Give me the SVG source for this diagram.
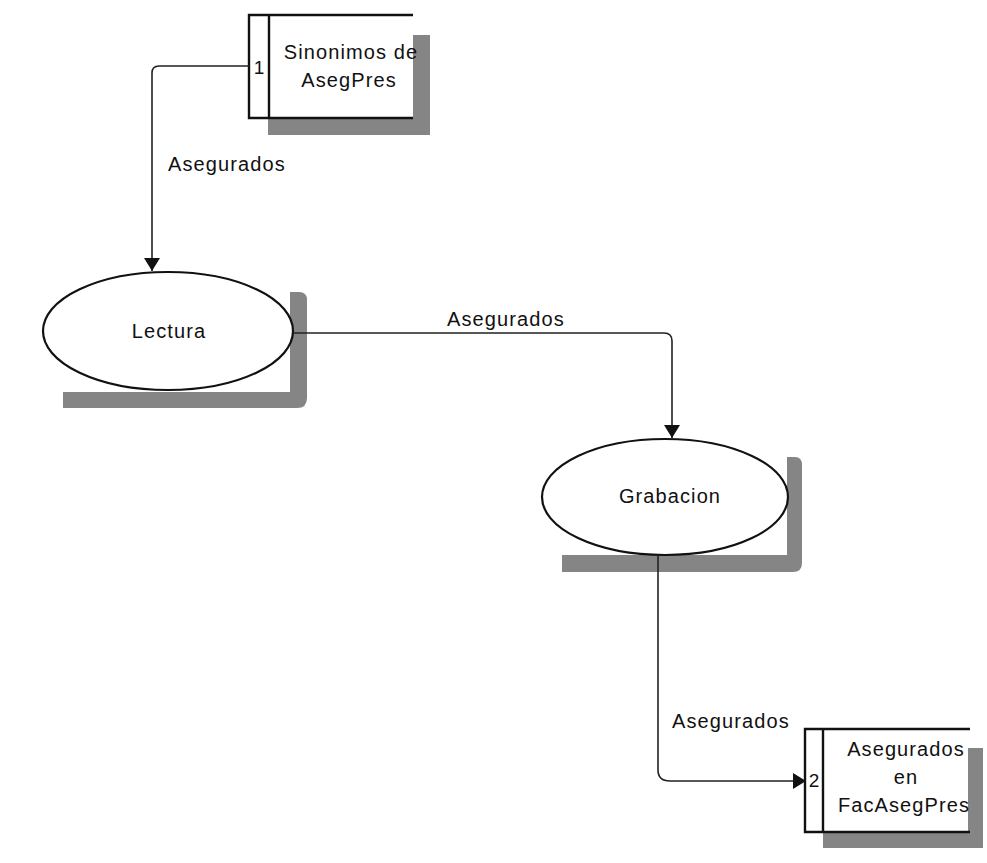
<svg xmlns="http://www.w3.org/2000/svg" width="987" height="863" viewBox="0 0 987 863">
  <style>
    .lbl { font-family: "Liberation Sans", Arial, sans-serif; font-size: 20px; letter-spacing: 1.1px; fill: #111; }
    .mid { text-anchor: middle; }
    .num { font-family: "Liberation Sans", Arial, sans-serif; font-size: 19px; fill: #111; text-anchor: middle; }
    .edge { fill: none; stroke: #222; stroke-width: 1.6; }
    .shadow { fill: #858585; }
    .proc { fill: #fff; stroke: #111; stroke-width: 2.2; }
    .store { fill: none; stroke: #111; stroke-width: 2.4; }
  </style>
  <defs>
    <marker id="arrow" viewBox="0 0 13 16" refX="13" refY="8" markerWidth="13" markerHeight="16" markerUnits="userSpaceOnUse" orient="auto">
      <path d="M0,0 L13,8 L0,16 Z" fill="#111"/>
    </marker>
  </defs>
  <rect width="987" height="863" fill="#fff"/>

  <!-- Data store 1 -->
  <g id="store1">
    <path class="shadow" d="M413,35 H430 V135 H268 V118 H413 Z"/>
    <path class="store" d="M413,15 H249 V118 H413 M269,15 V118"/>
    <text class="num" x="259" y="74">1</text>
    <text class="lbl mid" x="351" y="59">Sinonimos de</text>
    <text class="lbl mid" x="349" y="87">AsegPres</text>
  </g>

  <!-- Process: Lectura -->
  <g id="lectura">
    <path class="shadow" d="M290,292 H299 Q307,292 307,300 V398 Q307,408 297,408 H63 V392 H290 Z"/>
    <ellipse class="proc" cx="168" cy="331" rx="125" ry="59"/>
    <text class="lbl mid" x="169" y="338">Lectura</text>
  </g>

  <!-- Process: Grabacion -->
  <g id="grabacion">
    <path class="shadow" d="M787,457 H795 Q802,457 802,465 V563 Q802,572 793,572 H562 V555 H787 Z"/>
    <ellipse class="proc" cx="665" cy="497" rx="123" ry="58"/>
    <text class="lbl mid" x="670" y="503">Grabacion</text>
  </g>

  <!-- Data store 2 -->
  <g id="store2">
    <path class="shadow" d="M968,748 H983 V848 H823 V832 H968 Z"/>
    <path class="store" d="M970,729 H805 V832 H970 M823,729 V832"/>
    <text class="num" x="814" y="787">2</text>
    <text class="lbl mid" x="906" y="756">Asegurados</text>
    <text class="lbl mid" x="906" y="784">en</text>
    <text class="lbl mid" x="904" y="812">FacAsegPres</text>
  </g>

  <!-- Data flows -->
  <g id="connectors">
    <path class="edge" d="M249,66 H159 Q152,66 152,73 V271" marker-end="url(#arrow)"/>
    <path class="edge" d="M293,333 H664 Q672,333 672,341 V438" marker-end="url(#arrow)"/>
    <path class="edge" d="M658,555 V770 Q658,781 670,781 H806" marker-end="url(#arrow)"/>
    <text class="lbl" x="168" y="171">Asegurados</text>
    <text class="lbl" x="447" y="326">Asegurados</text>
    <text class="lbl" x="672" y="728">Asegurados</text>
  </g>
</svg>
